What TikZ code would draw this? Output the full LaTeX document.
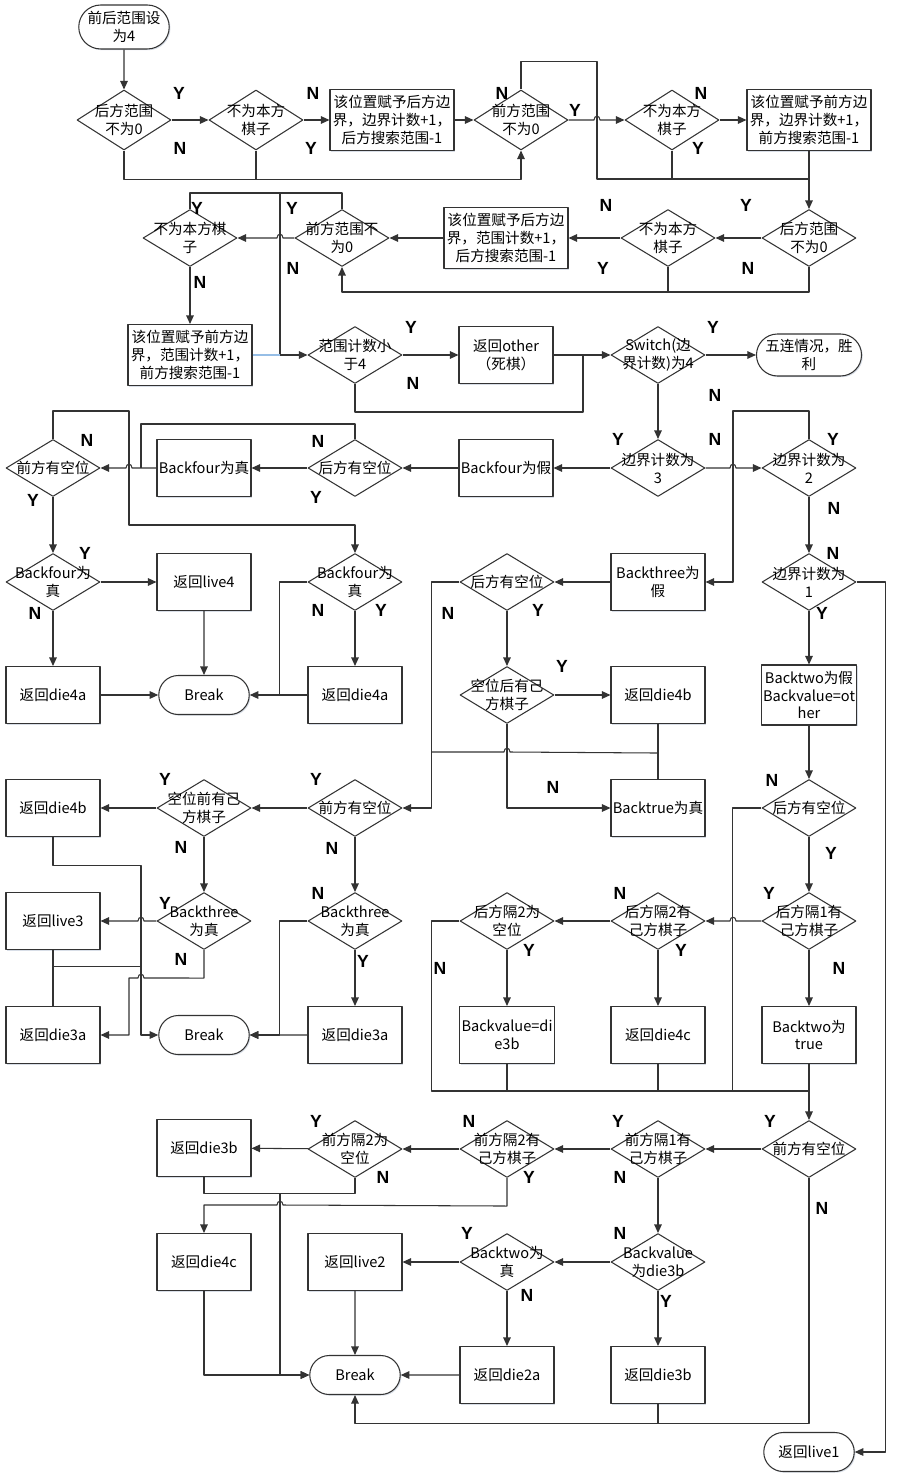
\documentclass[tikz,border=0pt]{standalone}
\usepackage{fontspec}
\setmainfont{Noto Sans CJK SC}
\newfontfamily\ynfont{Liberation Sans}
\usetikzlibrary{shapes.geometric,shapes.misc,arrows.meta,shadows}
\definecolor{hint}{RGB}{150,190,230}
\definecolor{shade}{RGB}{190,200,215}
\begin{document}
\begin{tikzpicture}[x=0.02cm,y=-0.02cm,>={Triangle[length=0.17cm,width=0.15cm]},line join=round,
	color=black!80,line width=0.6pt,font=\fontsize{8.3}{10.2}\selectfont,
	shade/.style={drop shadow={shadow xshift=0.7pt,shadow yshift=-0.7pt,fill=shade,opacity=0.6}},
	box/.style={rectangle,draw,fill=white,shade,text=black,align=center,inner sep=1pt,minimum width=1.88cm,minimum height=1.14cm},
	wide/.style={box,minimum width=2.48cm,minimum height=1.22cm},
	term/.style={rounded rectangle,draw,fill=white,shade,text=black,align=center,inner sep=1pt,minimum width=1.88cm,minimum height=0.78cm},
	dec/.style={diamond,draw,fill=white,inner sep=0pt,minimum width=1.88cm,minimum height=1.14cm,
		label={[align=center,text=black]center:#1}},
	tall/.style={minimum height=1.2cm},
	yn/.style={font=\ynfont\bfseries\fontsize{10}{12}\selectfont,text=black,inner sep=0pt}]
	\path[use as bounding box,fill=white] (0,0) rectangle (912,1480);
	% top rows
	\node[term,minimum height=0.88cm] (start) at (124,27) {前后范围设\\为4};
	\node[dec={后方范围\\不为0},tall] (d1) at (124,120) {};
	\node[dec={不为本方\\棋子},tall] (d2) at (256,120) {};
	\node[wide] (b1) at (392,120) {该位置赋予后方边\\界，边界计数+1，\\后方搜索范围-1};
	\node[dec={前方范围\\不为0},tall] (d3) at (521,120) {};
	\node[dec={不为本方\\棋子},tall] (d4) at (672,120) {};
	\node[wide] (b2) at (809,120) {该位置赋予前方边\\界，边界计数+1，\\前方搜索范围-1};
	\node[dec={后方范围\\不为0}] (d5) at (809,238) {};
	\node[dec={不为本方\\棋子}] (d6) at (668,238) {};
	\node[wide] (b3) at (506,238) {该位置赋予后方边\\界，范围计数+1，\\后方搜索范围-1};
	\node[dec={前方范围不\\为0}] (d7) at (342,238) {};
	\node[dec={不为本方棋\\子}] (d8) at (190,238) {};
	\node[wide] (b4) at (190,355) {该位置赋予前方边\\界，范围计数+1，\\前方搜索范围-1};
	\node[dec={范围计数小\\于4}] (d9) at (355,355) {};
	\node[box] (b5) at (506,355) {返回other\\（死棋）};
	\node[dec={Switch(边\\界计数)为4}] (d10) at (658,355) {};
	\node[term,minimum height=0.84cm] (win) at (809,355) {五连情况，胜\\利};
	% boundary count 3
	\node[dec={边界计数为\\3}] (d11) at (658,468) {};
	\node[dec={边界计数为\\2}] (d12) at (809,468) {};
	\node[dec={边界计数为\\1}] (d13) at (809,582) {};
	\node[box] (b6) at (506,468) {Backfour为假};
	\node[dec={后方有空位}] (d14) at (355,468) {};
	\node[box] (b7) at (204,468) {Backfour为真};
	\node[dec={前方有空位}] (d15) at (53,468) {};
	\node[dec={Backfour为\\真}] (d16) at (355,582) {};
	\node[dec={Backfour为\\真}] (d17) at (53,582) {};
	\node[box] (b8) at (204,582) {返回live4};
	\node[box] (b9) at (53,695) {返回die4a};
	\node[term] (brk1) at (204,695) {Break};
	\node[box] (b10) at (355,695) {返回die4a};
	\node[box] (b11) at (658,582) {Backthree为\\假};
	\node[dec={后方有空位}] (d18) at (507,582) {};
	\node[dec={空位后有己\\方棋子}] (d19) at (507,695) {};
	\node[box] (b12) at (658,695) {返回die4b};
	\node[box] (b13) at (658,808) {Backtrue为真};
	\node[box,minimum height=1.2cm] (b14) at (809,695) {Backtwo为假\\Backvalue=ot\\her};
	% front side
	\node[dec={前方有空位}] (d20) at (355,808) {};
	\node[dec={空位前有己\\方棋子}] (d21) at (204,808) {};
	\node[box] (b15) at (53,808) {返回die4b};
	\node[dec={Backthree\\为真}] (d22) at (204,921) {};
	\node[box] (b16) at (53,921) {返回live3};
	\node[box] (b17) at (53,1035) {返回die3a};
	\node[term] (brk2) at (204,1035) {Break};
	\node[dec={Backthree\\为真}] (d23) at (355,921) {};
	\node[box] (b18) at (355,1035) {返回die3a};
	% boundary count 1
	\node[dec={后方有空位}] (d24) at (809,808) {};
	\node[dec={后方隔1有\\己方棋子}] (d25) at (809,921) {};
	\node[dec={后方隔2有\\己方棋子}] (d26) at (658,921) {};
	\node[dec={后方隔2为\\空位}] (d27) at (507,921) {};
	\node[box] (b19) at (507,1035) {Backvalue=di\\e3b};
	\node[box] (b20) at (658,1035) {返回die4c};
	\node[box] (b21) at (809,1035) {Backtwo为\\true};
	\node[dec={前方有空位}] (d28) at (809,1149) {};
	\node[dec={前方隔1有\\己方棋子}] (d29) at (658,1149) {};
	\node[dec={前方隔2有\\己方棋子}] (d30) at (507,1149) {};
	\node[dec={前方隔2为\\空位}] (d31) at (355,1149) {};
	\node[box] (b22) at (204,1148) {返回die3b};
	\node[box] (b23) at (204,1262) {返回die4c};
	\node[box] (b24) at (355,1262) {返回live2};
	\node[dec={Backtwo为\\真}] (d33) at (507,1262) {};
	\node[dec={Backvalue\\为die3b}] (d32) at (658,1262) {};
	\node[term] (brk3) at (355,1375) {Break};
	\node[box] (b25) at (507,1375) {返回die2a};
	\node[box] (b26) at (658,1375) {返回die3b};
	\node[term] (live1) at (809,1452) {返回live1};
	% connectors, top
	\draw[->] (start) -- (d1);
	\draw[->] (d1) -- (d2);
	\draw[->] (d2) -- (b1);
	\draw[->] (b1) -- (d3);
	\draw[->] (d1.south) -- ++(0,29) -| (d3.south);
	\draw (d2.south) -- ++(0,29);
	\draw[->] (d3.north) -- ++(0,-28) -| (597,179) -| (d5.north);
	\draw[->] (d3.east) -- (594,120) .. controls (594,115) and (600,115) .. (600,120) -- (d4.west);
	\draw[->] (d4) -- (b2);
	\draw (d4.south) -- ++(0,29);
	\draw (b2.south) -- ++(0,28);
	\draw[->] (d5) -- (d6);
	\draw[->] (d6) -- (b3);
	\draw[->] (b3) -- (d7);
	\draw[->] (d5.south) -- ++(0,25) -| (d7.south);
	\draw (d6.south) -- ++(0,25);
	\draw[->] (d7.west) -- (283,238) .. controls (283,233) and (277,233) .. (277,238) -- (d8.east);
	\draw (d7.north) -- ++(0,-16) -| (d8.north);
	\coordinate (j1) at (280,193);
	\draw[->] (j1) |- (d9.west);
	\draw[->] (d8) -- (b4);
	\draw[hint] (b4.east) -- (j1 |- b4.east);
	\draw[->] (d9) -- (b5);
	\draw[->] (b5) -- (d10);
	\draw (d9.south) -- ++(0,28) -| (583,355);
	\draw[->] (d10) -- (win);
	\draw[->] (d10) -- (d11);
	% boundary count 3 and 4
	\draw[->] (d11.east) -- (730,468) .. controls (730,463) and (736,463) .. (736,468) -- (d12.west);
	\draw[->] (d12.north) -- ++(0,-28) -| (733,582) -- (b11.east);
	\draw[->] (d12) -- (d13);
	\draw[->] (d13.east) -- ++(29,0) |- (live1.east);
	\draw[->] (d13) -- (b14);
	\draw[->] (d11) -- (b6);
	\draw[->] (b6) -- (d14);
	\draw[->] (d14) -- (b7);
	\draw[->] (b7.west) -- (132,468) .. controls (132,463) and (126,463) .. (126,468) -- (d15.east);
	\draw (d14.north) -- ++(0,-15) -| (141,468);
	\draw[->] (d15.north) -- ++(0,-28) -| (129,525) -| (d16.north);
	\draw[->] (d15) -- (d17);
	\draw[->] (d17) -- (b8);
	\draw[->] (d17) -- (b9);
	\draw[->] (b9) -- (brk1);
	\draw[->] (b8) -- (brk1);
	\draw[->] (d16) -- (b10);
	\draw[->] (d16.west) -- ++(-28,0) |- (brk1.east);
	\draw (b10.west) -- ++(-28,0);
	\draw[->] (b11) -- (d18);
	\draw[->] (d18.west) -- ++(-28,0) |- (d20.east);
	\draw[->] (d18) -- (d19);
	\draw[->] (d19) -- (b12);
	\draw[->] (d19.south) |- (b13.west);
	\draw (b12) -- (b13);
	\draw (b12.south) -- ++(0,29) -- (510,752) .. controls (510,747) and (504,747) .. (504,752) -- (432,752);
	% front side
	\draw[->] (d20) -- (d21);
	\draw[->] (d21) -- (b15);
	\draw[->] (d21) -- (d22);
	\draw[->] (d22.west) -- (144,921) .. controls (144,916) and (138,916) .. (138,921) -- (b16.east);
	\draw[->] (d22.south) -- ++(0,28) -- (144,978) .. controls (144,973) and (138,973) .. (138,978) -- (129,978) |- (b17.east);
	\draw[->] (b15.south) -- ++(0,28) -- ++(88,0) |- (brk2.west);
	\draw (b16) -- (b17);
	\draw (b16.south) ++(0,16) -- ++(88,0);
	\draw[->] (d20) -- (d23);
	\draw[->] (d23) -- (b18);
	\draw[->] (d23.west) -- ++(-28,0) |- (brk2.east);
	\draw[->] (b18) -- (brk2);
	% boundary count 1
	\draw[->] (b14) -- (d24);
	\draw[->] (d24) -- (d25);
	\draw[->] (d25.west) -- (736,921) .. controls (736,916) and (730,916) .. (730,921) -- (d26.east);
	\draw[->] (d26) -- (d27);
	\draw[->] (d25) -- (b21);
	\draw[->] (d26) -- (b20);
	\draw[->] (d27) -- (b19);
	\draw[->] (d27.west) -- ++(-28,0) -- ++(0,170) -| (d28.north);
	\draw (d24.west) -- ++(-29,0) -- ++(0,283);
	\draw (b19.south) -- ++(0,28);
	\draw (b20.south) -- ++(0,28);
	\draw (b21.south) -- ++(0,28);
	\draw[->] (d28) -- (d29);
	\draw[->] (d29) -- (d30);
	\draw[->] (d30) -- (d31);
	\draw[->] (d31) -- (b22);
	\draw[->] (d30.south) -- ++(0,28) -- (283,1205) .. controls (283,1200) and (277,1200) .. (277,1205) -| (b23.north);
	\draw (b22.south) -- ++(0,16) -| (d31.south);
	\coordinate (j6) at (280,1193);
	\draw[->] (j6) |- (brk3.west);
	\draw[->] (b23.south) |- (brk3.west);
	\draw[->] (b24) -- (brk3);
	\draw[->] (d33) -- (b24);
	\draw[->] (d32) -- (d33);
	\draw[->] (d29) -- (d32);
	\draw[->] (d33) -- (b25);
	\draw[->] (b25) -- (brk3);
	\draw[->] (d32) -- (b26);
	\draw[->] (d28.south) -- ++(0,245) -| (brk3.south);
	\draw (b26.south) -- ++(0,19);
	% Y/N marks
	\node[yn] (m1) at (179,93) {Y}; \node[yn] (m2) at (180,148) {N};
	\node[yn] (m3) at (313,93) {N}; \node[yn] (m4) at (311,148) {Y};
	\node[yn] (m5) at (502,93) {N}; \node[yn] (m6) at (575,110) {Y};
	\node[yn] (m7) at (701,93) {N}; \node[yn] (m8) at (698,148) {Y};
	\node[yn] (m9) at (746,205) {Y}; \node[yn] (m10) at (748,268) {N};
	\node[yn] (m11) at (606,205) {N}; \node[yn] (m12) at (603,268) {Y};
	\node[yn] (m13) at (197,208) {Y}; \node[yn] (m14) at (292,208) {Y};
	\node[yn] (m15) at (293,268) {N}; \node[yn] (m16) at (200,282) {N};
	\node[yn] (m17) at (411,327) {Y}; \node[yn] (m18) at (413,383) {N};
	\node[yn] (m19) at (713,327) {Y}; \node[yn] (m20) at (715,395) {N};
	\node[yn] (m21) at (618,439) {Y}; \node[yn] (m22) at (715,439) {N};
	\node[yn] (m23) at (833,439) {Y}; \node[yn] (m24) at (834,508) {N};
	\node[yn] (m25) at (833,553) {N}; \node[yn] (m26) at (822,613) {Y};
	\node[yn] (m27) at (318,441) {N}; \node[yn] (m28) at (316,497) {Y};
	\node[yn] (m29) at (87,440) {N}; \node[yn] (m30) at (33,500) {Y};
	\node[yn] (m31) at (85,553) {Y}; \node[yn] (m32) at (35,613) {N};
	\node[yn] (m33) at (318,610) {N}; \node[yn] (m34) at (381,610) {Y};
	\node[yn] (m35) at (448,613) {N}; \node[yn] (m36) at (538,610) {Y};
	\node[yn] (m37) at (562,666) {Y}; \node[yn] (m38) at (553,787) {N};
	\node[yn] (m39) at (772,780) {N}; \node[yn] (m40) at (831,853) {Y};
	\node[yn] (m41) at (769,893) {Y}; \node[yn] (m42) at (839,968) {N};
	\node[yn] (m43) at (620,893) {N}; \node[yn] (m44) at (681,950) {Y};
	\node[yn] (m45) at (529,950) {Y}; \node[yn] (m46) at (440,968) {N};
	\node[yn] (m47) at (316,779) {Y}; \node[yn] (m48) at (332,848) {N};
	\node[yn] (m49) at (165,779) {Y}; \node[yn] (m50) at (181,847) {N};
	\node[yn] (m51) at (165,903) {Y}; \node[yn] (m52) at (181,959) {N};
	\node[yn] (m53) at (318,893) {N}; \node[yn] (m54) at (363,961) {Y};
	\node[yn] (m55) at (770,1121) {Y}; \node[yn] (m56) at (822,1208) {N};
	\node[yn] (m57) at (618,1121) {Y}; \node[yn] (m58) at (620,1177) {N};
	\node[yn] (m59) at (469,1121) {N}; \node[yn] (m60) at (529,1177) {Y};
	\node[yn] (m61) at (316,1121) {Y}; \node[yn] (m62) at (383,1177) {N};
	\node[yn] (m63) at (467,1233) {Y}; \node[yn] (m64) at (527,1295) {N};
	\node[yn] (m65) at (620,1233) {N}; \node[yn] (m66) at (666,1301) {Y};
\end{tikzpicture}
\end{document}
